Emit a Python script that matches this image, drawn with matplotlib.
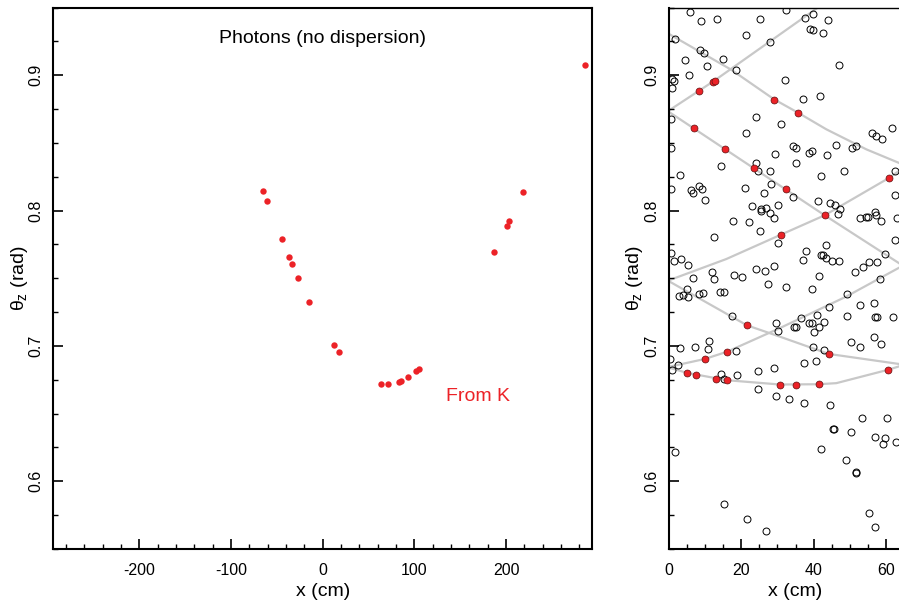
import matplotlib
matplotlib.use("Agg")
import matplotlib.pyplot as plt
from matplotlib.ticker import MultipleLocator

plt.rcParams["font.family"] = ["Liberation Sans", "DejaVu Sans"]
plt.rcParams["mathtext.fontset"] = "custom"
plt.rcParams["mathtext.rm"] = "Liberation Sans"
plt.rcParams["mathtext.it"] = "Liberation Sans"
plt.rcParams["axes.unicode_minus"] = False

RED = "#ec2227"
GRAY_LINE = "#c8c8c8"

# left panel: photon hits coming from K
k_x = [-64.9, -60.9, -44.6, -36.2, -32.9, -26.4, -14.8, 12.4, 17.4,
       63.8, 70.7, 83.0, 85.2, 93.4, 101.8, 104.9,
       186.6, 200.8, 203.3, 218.2, 286.4]
k_theta = [0.8145, 0.8071, 0.7793, 0.7654, 0.7606, 0.7503, 0.7328, 0.7007, 0.6955,
           0.6719, 0.6716, 0.6736, 0.6741, 0.6774, 0.6815, 0.6832,
           0.7692, 0.7886, 0.7921, 0.8135, 0.9076]

# right panel: all hits (open circles)
hit_x = [5.79, 8.82, 13.42, 25.28, 32.26, 37.59, 39.80, 44.03, 1.65, 8.64,
         9.65, 4.50, 10.57, 14.98, 21.23, 27.85, 39.06, 39.80, 42.46, 47.06,
         5.61, 0.83, 1.56, 1.01, 18.47, 32.17, 36.95, 41.73, 0.55, 23.99,
         30.88, 21.42, 56.07, 57.26, 58.82, 61.67, 0.74, 34.28, 35.20, 29.32,
         38.79, 39.43, 43.57, 46.14, 50.46, 51.65, 14.52, 24.08, 24.54, 27.85,
         35.20, 42.10, 48.35, 62.32, 3.13, 0.74, 6.25, 8.27, 6.80, 9.28,
         10.02, 20.96, 28.31, 26.38, 34.28, 22.89, 25.37, 26.84, 25.46, 27.85,
         28.95, 30.06, 22.24, 25.09, 17.74, 12.41, 41.18, 44.49, 45.96, 47.15,
         46.69, 52.67, 54.50, 54.96, 56.80, 57.08, 58.64, 63.05, 62.50, 62.50,
         30.15, 43.47, 0.64, 3.31, 5.33, 1.38, 11.86, 12.41, 18.11, 20.22,
         24.17, 26.47, 29.14, 37.04, 37.96, 42.00, 42.46, 43.29, 44.94, 46.88,
         41.45, 51.38, 53.58, 55.15, 57.54, 59.56, 58.27, 6.71, 27.30, 32.44,
         39.43, 49.26, 5.06, 2.76, 3.95, 5.42, 8.36, 9.47, 14.06, 15.17,
         17.56, 29.69, 30.24, 34.56, 35.20, 36.49, 38.60, 39.43, 40.99, 41.36,
         40.07, 42.92, 44.12, 49.17, 52.67, 56.71, 56.89, 57.35, 61.86, 56.62,
         50.37, 52.85, 58.64, 39.80, 42.74, 37.41, 40.72, 3.22, 7.17, 11.12,
         10.85, 18.66, 0.28, 2.48, 0.92, 14.52, 15.17, 18.84, 24.54, 29.14,
         24.54, 29.50, 33.09, 37.22, 44.39, 53.31, 60.20, 45.31, 45.59, 50.18,
         56.89, 59.65, 59.01, 62.59, 42.00, 48.99, 51.56, 51.75, 1.84, 15.17,
         21.69, 26.93, 55.15, 56.80]
hit_theta = [0.9469, 0.9402, 0.9415, 0.9415, 0.9481, 0.9422, 0.9452, 0.9405, 0.9267, 0.9188,
             0.9163, 0.9109, 0.9069, 0.9123, 0.9299, 0.9247, 0.9338, 0.9331, 0.9311, 0.9077,
             0.9000, 0.8975, 0.8958, 0.8906, 0.9040, 0.8963, 0.8827, 0.8847, 0.8679, 0.8691,
             0.8640, 0.8575, 0.8575, 0.8551, 0.8531, 0.8612, 0.8464, 0.8474, 0.8462, 0.8415,
             0.8425, 0.8437, 0.8412, 0.8484, 0.8464, 0.8474, 0.8328, 0.8348, 0.8294, 0.8294,
             0.8348, 0.8254, 0.8294, 0.8294, 0.8259, 0.8160, 0.8151, 0.8178, 0.8131, 0.8160,
             0.8081, 0.8170, 0.8198, 0.8126, 0.8101, 0.8032, 0.8015, 0.8020, 0.8000, 0.7983,
             0.7946, 0.8040, 0.7919, 0.7852, 0.7926, 0.7807, 0.8074, 0.8059, 0.8040, 0.8012,
             0.7975, 0.7943, 0.7953, 0.7953, 0.7990, 0.7965, 0.7921, 0.7946, 0.8114, 0.7785,
             0.7758, 0.7743, 0.7686, 0.7642, 0.7600, 0.7627, 0.7543, 0.7494, 0.7526, 0.7509,
             0.7568, 0.7556, 0.7588, 0.7637, 0.7701, 0.7672, 0.7669, 0.7649, 0.7630, 0.7630,
             0.7514, 0.7543, 0.7580, 0.7620, 0.7620, 0.7681, 0.7494, 0.7501, 0.7457, 0.7435,
             0.7420, 0.7385, 0.7420, 0.7370, 0.7375, 0.7358, 0.7383, 0.7390, 0.7398, 0.7398,
             0.7224, 0.7167, 0.7111, 0.7138, 0.7143, 0.7206, 0.7167, 0.7172, 0.7226, 0.7138,
             0.7101, 0.7177, 0.7285, 0.7219, 0.7300, 0.7314, 0.7214, 0.7216, 0.7211, 0.7069,
             0.7027, 0.6993, 0.7012, 0.6993, 0.6968, 0.6872, 0.6889, 0.6983, 0.6990, 0.7034,
             0.6978, 0.6963, 0.6907, 0.6862, 0.6821, 0.6794, 0.6757, 0.6786, 0.6816, 0.6835,
             0.6681, 0.6631, 0.6607, 0.6580, 0.6563, 0.6467, 0.6464, 0.6386, 0.6386, 0.6364,
             0.6329, 0.6319, 0.6278, 0.6287, 0.6236, 0.6157, 0.6069, 0.6059, 0.6219, 0.5830,
             0.5722, 0.5634, 0.5764, 0.5663]

# right panel: hits matched to K (filled red)
match_x = [8.27, 12.2, 12.7, 29.04, 35.66, 6.89, 15.63, 23.44, 32.44, 43.01,
           30.97, 60.66, 21.60, 10.02, 16.18, 44.12, 5.06, 7.63, 13.05, 15.99,
           30.61, 35.20, 41.36, 60.39]
match_theta = [0.8881, 0.8953, 0.8960, 0.8817, 0.8723, 0.8612, 0.8452, 0.8314, 0.8156, 0.7965,
               0.7822, 0.8240, 0.7152, 0.6904, 0.6958, 0.6941, 0.6801, 0.6784, 0.6759, 0.6747,
               0.6715, 0.6713, 0.6717, 0.6823]

# expected ray paths (gray polylines)
paths = [
    ([0, 17.28, 29.04, 35.66, 43.48, 54.51, 63.41],
     [0.9306, 0.9040, 0.8822, 0.8723, 0.8600, 0.8452, 0.8353]),
    ([0, 12.41, 41.64], [0.8738, 0.8956, 0.9509]),
    ([0, 43.01, 63.41], [0.8730, 0.7965, 0.7613]),
    ([0, 15.90, 30.97, 43.01, 60.62, 63.41], [0.7484, 0.7642, 0.7822, 0.7965, 0.8239, 0.8291]),
    ([0, 21.60, 30.6, 44.12, 63.42], [0.7479, 0.7152, 0.7069, 0.6941, 0.6867]),
    ([0, 10.02, 16.18, 30.6, 48.99, 63.41], [0.6845, 0.6904, 0.6958, 0.7131, 0.7365, 0.7576]),
    ([0, 5.06, 15.99, 30.61, 41.36, 46.23, 60.39, 63.42],
     [0.6840, 0.6801, 0.6747, 0.6715, 0.6717, 0.6725, 0.6823, 0.6848]),
]

ylab = r"$\theta_z$ (rad)"

fig = plt.figure(figsize=(8.99, 6.05), dpi=100)
ax1 = fig.add_axes([0.05896, 0.0926, 0.5999, 0.895])
ax2 = fig.add_axes([0.7438, 0.0926, 0.2824, 0.895])

ax1.plot(k_x, k_theta, "o", color=RED, ms=4.6, mew=0)
ax1.set_xlim(-294, 294)
ax1.text(0, 0.927, "Photons (no dispersion)", ha="center", va="center", fontsize=14)
ax1.text(134, 0.663, "From K", ha="left", va="center", fontsize=14, color=RED)
ax1.xaxis.set_major_locator(MultipleLocator(100))
ax1.xaxis.set_minor_locator(MultipleLocator(20))

for xs, ys in paths:
    ax2.plot(xs, ys, "-", color=GRAY_LINE, lw=1.6, zorder=1)
ax2.plot(hit_x, hit_theta, "o", mfc="none", mec="black", ms=5.0, mew=0.7, zorder=2)
ax2.plot(match_x, match_theta, "o", color=RED, mec="#601010", ms=5.0, mew=0.5, zorder=3)
ax2.set_xlim(0, 70)
ax2.xaxis.set_major_locator(MultipleLocator(20))
ax2.xaxis.set_minor_locator(MultipleLocator(5))

for ax in (ax1, ax2):
    ax.set_ylim(0.55, 0.95)
    ax.yaxis.set_major_locator(MultipleLocator(0.1))
    ax.yaxis.set_minor_locator(MultipleLocator(0.025))
    ax.tick_params(which="major", direction="in", length=7, width=1.2, labelsize=11.5)
    ax.tick_params(which="minor", direction="in", length=3.5, width=1.0)
    ax.tick_params(axis="x", which="major", pad=10)
    ax.tick_params(axis="y", which="major", pad=7)
    for lbl in ax.get_yticklabels():
        lbl.set_rotation(90)
        lbl.set_va("center")
    for side in ax.spines.values():
        side.set_linewidth(1.5)
    ax.set_xlabel("x (cm)", fontsize=14, labelpad=4)
    ax.set_ylabel(ylab, fontsize=14, labelpad=-1)

ax2.spines["top"].set_linewidth(1.0)

fig.savefig("out.png", dpi=100)
